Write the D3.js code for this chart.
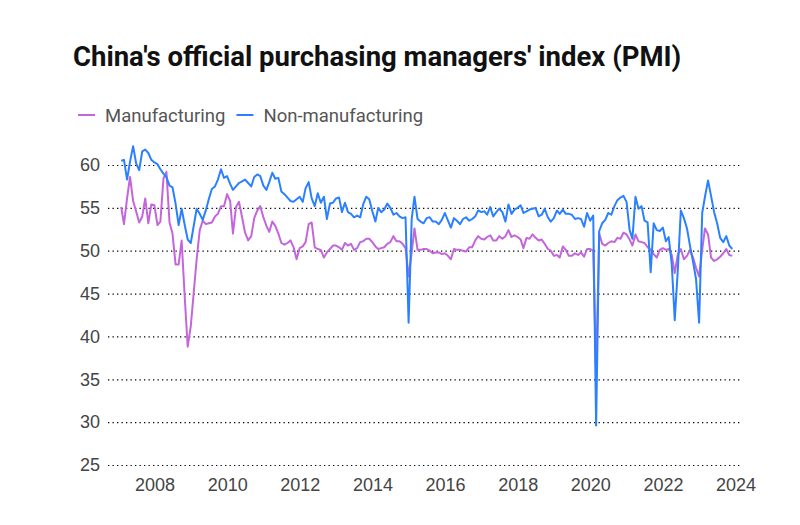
<!DOCTYPE html>
<html>
<head>
<meta charset="utf-8">
<script src="https://cdn.jsdelivr.net/npm/d3@7"></script>
<style>
  body { margin: 0; background: #fff; }
  svg { display: block; font-family: Roboto, "Noto Sans", sans-serif; }
  .grid line { stroke: #000; stroke-width: 1.2; stroke-dasharray: 1.3,3.2; }
  .axis text { fill: #444; font-size: 18px; }
</style>
</head>
<body>
<div id="chart"></div>
<script>
'use strict';

const width = 800;
const height = 525;

// monthly values, Jan 2007 .. Nov 2023
const startYear = 2007;
const seriesNames = ["Manufacturing", "Non-manufacturing"];

const manufacturing = [
  55.1, 53.1, 56.1, 58.6, 55.8, 54.6, 53.3, 54.0, 56.1, 53.2, 55.4, 55.3,
  53.0, 53.4, 58.4, 59.2, 53.3, 52.0, 48.4, 48.4, 51.2, 44.6, 38.8, 41.2,
  45.3, 49.0, 52.4, 53.5, 53.1, 53.2, 53.3, 54.0, 54.3, 55.2, 55.2, 56.6,
  55.8, 52.0, 55.1, 55.7, 53.9, 52.1, 51.2, 51.7, 53.8, 54.7, 55.2, 53.9,
  52.9, 52.2, 53.4, 52.9, 52.0, 50.9, 50.7, 50.9, 51.2, 50.4, 49.0, 50.3,
  50.5, 51.0, 53.1, 53.3, 50.4, 50.2, 50.1, 49.2, 49.8, 50.2, 50.6, 50.6,
  50.4, 50.1, 50.9, 50.6, 50.8, 50.1, 50.3, 51.0, 51.1, 51.4, 51.4, 51.0,
  50.5, 50.2, 50.3, 50.4, 50.8, 51.0, 51.7, 51.1, 51.1, 50.8, 50.3, 47.0,
  49.8, 52.6, 50.1, 50.1, 50.2, 50.2, 50.0, 49.7, 49.8, 49.8, 49.6, 49.7,
  49.4, 49.0, 50.2, 50.1, 50.1, 50.0, 49.9, 50.4, 50.4, 51.2, 51.7, 51.4,
  51.3, 51.6, 51.8, 51.2, 51.2, 51.7, 51.4, 51.7, 52.4, 51.6, 51.8, 51.6,
  51.3, 50.3, 51.5, 51.4, 51.9, 51.5, 51.2, 51.3, 50.8, 50.2, 50.0, 49.4,
  49.5, 49.2, 50.5, 50.1, 49.4, 49.4, 49.7, 49.5, 49.8, 49.3, 50.2, 50.2,
  50.0, 35.7, 52.0, 50.8, 50.6, 50.9, 51.1, 51.0, 51.5, 51.4, 52.1, 51.9,
  51.3, 50.6, 51.9, 51.1, 51.0, 50.9, 50.4, 50.1, 49.6, 49.2, 50.1, 50.3,
  50.1, 50.2, 49.5, 47.4, 49.6, 50.2, 49.0, 49.4, 50.1, 49.2, 48.0, 47.0,
  50.1, 52.6, 51.9, 49.2, 48.8, 49.0, 49.3, 49.7, 50.2, 49.5, 49.4
];

const nonManufacturing = [
  60.5, 60.6, 58.3, 60.4, 62.2, 60.2, 59.4, 61.6, 61.8, 61.4, 60.6, 60.3,
  60.1, 59.5, 59.0, 58.6, 57.6, 57.4, 55.5, 53.0, 54.9, 53.0, 51.3, 50.9,
  53.0, 54.9, 54.3, 53.6, 54.7, 56.0, 57.2, 57.5, 58.3, 59.5, 58.5, 58.7,
  57.8, 57.1, 57.5, 57.9, 58.1, 58.3, 57.9, 57.5, 58.6, 58.9, 58.7, 57.6,
  57.1, 58.0, 59.1, 58.4, 58.5, 56.9, 56.6, 56.2, 55.8, 55.7, 56.0, 56.3,
  55.7, 57.3, 58.0, 56.1, 55.2, 56.7, 55.6, 56.3, 53.7, 55.5, 55.6, 56.1,
  56.2, 54.5, 55.6, 54.5, 54.3, 53.9, 54.1, 53.9, 55.4, 56.3, 56.0, 54.6,
  53.4, 55.0, 54.5, 54.8, 55.5, 55.0, 54.2, 54.4, 54.0, 53.8, 53.9, 41.6,
  53.7, 56.3, 53.7, 53.4, 53.2, 53.8, 53.9, 53.4, 53.4, 53.1, 53.6, 54.4,
  53.5, 52.7, 53.8, 53.5, 53.1, 53.7, 53.9, 53.5, 53.7, 54.0, 54.7, 54.5,
  54.6, 54.2, 55.1, 54.0, 54.5, 54.9, 54.5, 53.4, 55.4, 54.3, 54.8, 55.0,
  55.3, 54.4, 54.6, 54.8, 54.9, 55.0, 54.0, 54.2, 54.9, 53.9, 53.4, 53.8,
  54.7, 54.3, 54.8, 54.3, 54.3, 54.2, 53.7, 53.8, 53.7, 52.8, 54.4, 53.5,
  54.1, 29.6, 52.3, 53.2, 53.6, 54.4, 54.2, 55.2, 55.9, 56.2, 56.4, 55.7,
  52.4, 51.4, 56.3, 54.9, 55.2, 53.5, 53.3, 47.5, 53.2, 52.4, 52.3, 52.7,
  51.1, 51.6, 48.4, 41.9, 47.8, 54.7, 53.8, 52.6, 50.6, 48.7, 46.7, 41.6,
  54.4, 56.3, 58.2, 56.4, 54.5, 53.2, 51.5, 51.0, 51.7, 50.6, 50.2
];

const yearTicks = [2008, 2010, 2012, 2014, 2016, 2018, 2020, 2022, 2024];
const valueTicks = [25, 30, 35, 40, 45, 50, 55, 60];

const colors = ["#c466db", "#2b80ff"];

const svg = d3.select("#chart")
  .append("svg")
  .attr("width", width)
  .attr("height", height);

// each value sits at the last day of its month
const monthEnd = i => new Date(startYear, i + 1, 0);

const x = d3.scaleTime()
  .domain([new Date(2008, 0, 1), new Date(2024, 0, 1)])
  .range([154.5, 735.5]);

const y = d3.scaleLinear()
  .domain([25, 60])
  .range([465, 165]);

const gridLeft = 108, gridRight = 740;

// title
svg.append("text")
  .attr("x", 73)
  .attr("y", 66)
  .attr("font-size", 27.5)
  .attr("font-weight", 700)
  .attr("fill", "#111")
  .text("China's official purchasing managers' index (PMI)");

// legend
const legend = svg.append("g").attr("transform", "translate(78,115)");
let lx = 0;
seriesNames.forEach((name, k) => {
  const g = legend.append("g").attr("transform", `translate(${lx},0)`);
  g.append("line")
    .attr("x1", 0).attr("x2", 17)
    .attr("stroke", colors[k]).attr("stroke-width", 2);
  const t = g.append("text")
    .attr("x", 27).attr("y", 6.5)
    .attr("font-size", 18.5)
    .attr("fill", "#555")
    .text(name);
  lx += 27 + t.node().getComputedTextLength() + 11;
});

// y gridlines + labels
svg.append("g")
  .attr("class", "axis grid")
  .attr("transform", `translate(${gridLeft},0)`)
  .call(d3.axisLeft(y).tickValues(valueTicks).tickSize(-(gridRight - gridLeft)).tickPadding(8))
  .call(g => g.select(".domain").remove());

// x labels
svg.append("g")
  .attr("class", "axis")
  .attr("transform", `translate(0,${y(25)})`)
  .call(d3.axisBottom(x)
    .tickValues(yearTicks.map(yr => new Date(yr, 0, 1)))
    .tickFormat(d3.timeFormat("%Y"))
    .tickSize(0)
    .tickPadding(13))
  .call(g => g.select(".domain").remove());

const line = d3.line()
  .x((d, i) => x(monthEnd(i)))
  .y(d => y(d));

[manufacturing, nonManufacturing].forEach((vals, k) => {
  svg.append("path")
    .datum(vals)
    .attr("fill", "none")
    .attr("stroke", colors[k])
    .attr("stroke-width", 2)
    .attr("stroke-linejoin", "round")
    .attr("d", line);
});
</script>
</body>
</html>
